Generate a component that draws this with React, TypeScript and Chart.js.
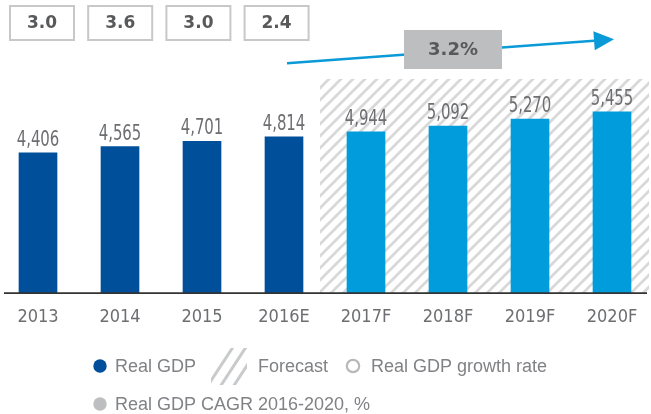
import React, { useEffect, useRef } from 'react';
import { Chart, registerables } from 'chart.js';

Chart.register(...registerables);

// ---------- data ----------
const categories = ['2013', '2014', '2015', '2016E', '2017F', '2018F', '2019F', '2020F'];
const realGdp = [4406, 4565, 4701, 4814, 4944, 5092, 5270, 5455];
const growthRates = [3.0, 3.6, 3.0, 2.4];
const cagrValue = 3.2;
const forecastStartIndex = 4;
const legendRow1 = ['Real GDP', 'Forecast', 'Real GDP growth rate'];
const legendRow2 = ['Real GDP CAGR 2016-2020, %'];
const yAxisMin = 830;
const yAxisMax = 6292;

// ---------- styles ----------
const DARK_BLUE = '#004f9a';
const LIGHT_BLUE = '#009cdc';
const ARROW_BLUE = '#0a9ad8';
const HATCH_GRAY = '#d8d8d8';
const BOX_BORDER = '#c7c8c9';
const BOX_TEXT = '#58595b';
const CAGR_FILL = '#bcbec0';
const LABEL_GRAY = '#6d6e71';
const LEGEND_GRAY = '#808285';
const NARROW = "'DejaVu Sans Condensed', 'DejaVu Sans', sans-serif";
const SANS = "'Liberation Sans', Arial, sans-serif";
const BOLD = "'DejaVu Sans', sans-serif";

function makePattern(ctx: CanvasRenderingContext2D, period: number, width: number, color: string) {
  const c = document.createElement('canvas');
  c.width = period;
  c.height = period;
  const g = c.getContext('2d')!;
  g.strokeStyle = color;
  g.lineWidth = width;
  g.lineCap = 'square';
  for (const off of [-period, 0, period]) {
    g.beginPath();
    g.moveTo(off, period);
    g.lineTo(off + period, 0);
    g.stroke();
  }
  return ctx.createPattern(c, 'repeat')!;
}

const overlayPlugin = {
  id: 'overlay',
  beforeDatasetsDraw(chart: any) {
    const { ctx, chartArea, scales } = chart;
    const x = scales.x;
    const left = x.getPixelForValue(forecastStartIndex) - 46;
    const right = chart.width - 2;
    ctx.save();
    ctx.fillStyle = makePattern(ctx, 12, 2.7, HATCH_GRAY);
    ctx.fillRect(left, chartArea.top, right - left, chartArea.bottom - chartArea.top);
    ctx.restore();
  },
  afterDatasetsDraw(chart: any) {
    const { ctx, chartArea } = chart;
    ctx.save();

    // axis line
    ctx.strokeStyle = '#333333';
    ctx.lineWidth = 1.6;
    ctx.beginPath();
    ctx.moveTo(4, chartArea.bottom + 0.3);
    ctx.lineTo(647, chartArea.bottom + 0.3);
    ctx.stroke();

    // value labels (condensed)
    const meta = chart.getDatasetMeta(0);
    ctx.fillStyle = LABEL_GRAY;
    ctx.font = `21px ${NARROW}`;
    ctx.textAlign = 'center';
    ctx.textBaseline = 'alphabetic';
    meta.data.forEach((bar: any, i: number) => {
      ctx.save();
      ctx.translate(bar.x, bar.y - 7);
      ctx.scale(0.79, 1);
      ctx.fillText(realGdp[i].toLocaleString('en-US'), 0, 0);
      ctx.restore();
    });

    // growth rate boxes
    ctx.font = `bold 17px ${BOLD}`;
    ctx.textBaseline = 'middle';
    ctx.textAlign = 'center';
    growthRates.forEach((g, i) => {
      const cx = 42 + 78.2 * i;
      const w = 64, h = 34, top = 6;
      ctx.strokeStyle = BOX_BORDER;
      ctx.lineWidth = 2;
      ctx.strokeRect(cx - w / 2, top, w, h);
      ctx.fillStyle = BOX_TEXT;
      ctx.fillText(g.toFixed(1), cx, top + h / 2 + 1);
    });

    // CAGR arrow
    const x0 = 287, y0 = 63.3, x1 = 614, y1 = 39.3;
    const ang = Math.atan2(y1 - y0, x1 - x0);
    const headLen = 20, headHalf = 9.5;
    const bx = x1 - headLen * Math.cos(ang);
    const by = y1 - headLen * Math.sin(ang);
    ctx.strokeStyle = ARROW_BLUE;
    ctx.lineWidth = 2.4;
    ctx.beginPath();
    ctx.moveTo(x0, y0);
    ctx.lineTo(bx, by);
    ctx.stroke();
    ctx.fillStyle = ARROW_BLUE;
    ctx.beginPath();
    ctx.moveTo(x1, y1);
    ctx.lineTo(bx - headHalf * Math.sin(ang), by + headHalf * Math.cos(ang));
    ctx.lineTo(bx + headHalf * Math.sin(ang), by - headHalf * Math.cos(ang));
    ctx.closePath();
    ctx.fill();

    // CAGR box
    ctx.fillStyle = CAGR_FILL;
    ctx.fillRect(404, 30, 98, 39);
    ctx.fillStyle = BOX_TEXT;
    ctx.font = `bold 18px ${BOLD}`;
    ctx.textAlign = 'center';
    ctx.fillText(`${cagrValue.toFixed(1)}%`, 453, 50);

    // legend
    const r1 = 366, r2 = 404;
    ctx.font = `18px ${SANS}`;
    ctx.textAlign = 'left';
    ctx.textBaseline = 'middle';

    ctx.fillStyle = DARK_BLUE;
    ctx.beginPath();
    ctx.arc(100, r1, 6.7, 0, Math.PI * 2);
    ctx.fill();
    ctx.fillStyle = LEGEND_GRAY;
    ctx.fillText(legendRow1[0], 115, r1 + 1);

    ctx.save();
    ctx.beginPath();
    ctx.rect(211, 348, 36, 37);
    ctx.clip();
    ctx.strokeStyle = '#c9cacb';
    ctx.lineWidth = 3;
    for (let k = 0; k < 3; k++) {
      const ox = 205 + k * 13;
      ctx.beginPath();
      ctx.moveTo(ox, 390);
      ctx.lineTo(ox + 30, 344);
      ctx.stroke();
    }
    ctx.restore();
    ctx.fillStyle = LEGEND_GRAY;
    ctx.fillText(legendRow1[1], 258, r1 + 1);

    ctx.strokeStyle = '#b8b9bb';
    ctx.lineWidth = 2.2;
    ctx.beginPath();
    ctx.arc(353, r1, 6.2, 0, Math.PI * 2);
    ctx.stroke();
    ctx.fillStyle = LEGEND_GRAY;
    ctx.fillText(legendRow1[2], 371, r1 + 1);

    ctx.fillStyle = CAGR_FILL;
    ctx.beginPath();
    ctx.arc(100, r2, 6.7, 0, Math.PI * 2);
    ctx.fill();
    ctx.fillStyle = LEGEND_GRAY;
    ctx.fillText(legendRow2[0], 115, r2 + 1);

    ctx.restore();
  },
};

export default function App() {
  const canvasRef = useRef<HTMLCanvasElement | null>(null);

  useEffect(() => {
    const canvas = canvasRef.current;
    if (!canvas) return;
    const chart = new Chart(canvas, {
      type: 'bar',
      data: {
        labels: categories,
        datasets: [
          {
            label: 'Real GDP',
            data: realGdp,
            backgroundColor: realGdp.map((_, i) => (i < forecastStartIndex ? DARK_BLUE : LIGHT_BLUE)),
            barThickness: 38,
            borderWidth: 0,
            base: yAxisMin,
            clip: false,
          } as any,
        ],
      },
      options: {
        animation: false,
        responsive: false,
        devicePixelRatio: 1,
        layout: { padding: { left: 38, right: 39, top: 79, bottom: 73 } },
        plugins: {
          legend: { display: false },
          tooltip: { enabled: false },
          title: { display: false },
        },
        scales: {
          x: {
            offset: false,
            grid: { display: false, drawTicks: false },
            border: { display: false },
            ticks: {
              color: LABEL_GRAY,
              padding: 13.3,
              font: { family: NARROW, size: 18 },
              maxRotation: 0,
              autoSkip: false,
            },
          },
          y: {
            display: false,
            min: yAxisMin,
            max: yAxisMax,
            grid: { display: false },
          },
        },
      },
      plugins: [overlayPlugin],
    });
    return () => chart.destroy();
  }, []);

  return (
    <div style={{ position: 'fixed', left: 0, top: 0, width: 651, height: 414, background: '#ffffff' }}>
      <canvas ref={canvasRef} width={651} height={414} style={{ display: 'block' }} />
    </div>
  );
}
